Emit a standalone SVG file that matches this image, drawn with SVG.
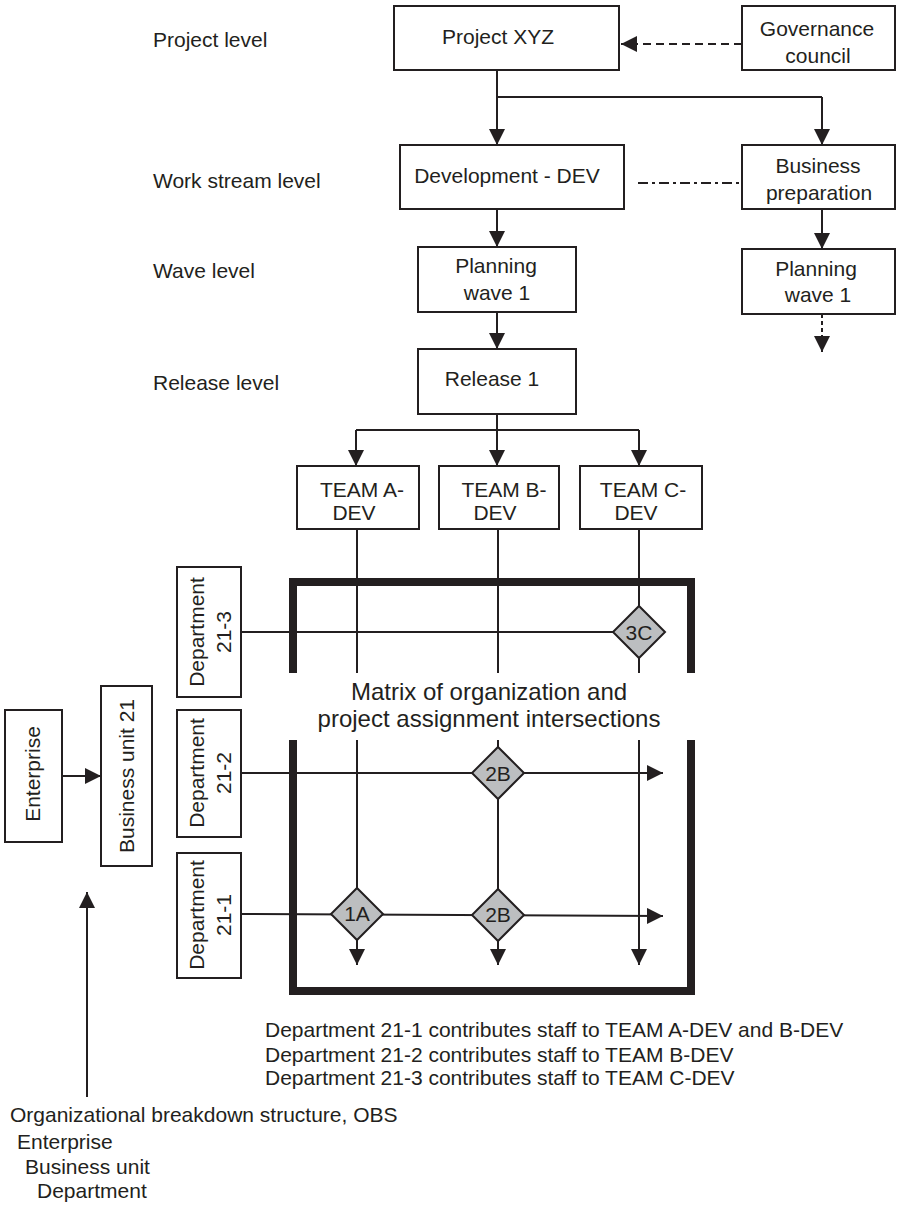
<svg xmlns="http://www.w3.org/2000/svg" width="897" height="1206" viewBox="0 0 897 1206">
  <style>
    text { font-family: "Liberation Sans", Arial, Helvetica, sans-serif; font-size: 21px; fill: #231f20; }
    .c { text-anchor: middle; }
    .box { fill: #ffffff; stroke: #231f20; stroke-width: 2; }
    .dia { fill: #bcbec0; stroke: #231f20; stroke-width: 2; stroke-linejoin: miter; }
    .ln { fill: none; stroke: #231f20; stroke-width: 2; }
    .arr { marker-end: url(#ah); }
    .frame { fill: none; stroke: #231f20; stroke-width: 8; stroke-linejoin: miter; }
    .big { font-size: 24px; }
  </style>
  <defs>
    <marker id="ah" viewBox="0 0 16 16" refX="16" refY="8" markerWidth="16" markerHeight="16" markerUnits="userSpaceOnUse" orient="auto">
      <path d="M0,0 L16,8 L0,16 Z" fill="#231f20"/>
    </marker>
  </defs>
  <rect width="897" height="1206" fill="#ffffff"/>

  <!-- level labels -->
  <g id="level-labels">
    <text x="153" y="47">Project level</text>
    <text x="153" y="188">Work stream level</text>
    <text x="153" y="278">Wave level</text>
    <text x="153" y="390">Release level</text>
  </g>

  <!-- connectors -->
  <g id="connectors">
    <line class="ln arr" x1="742" y1="44" x2="621" y2="44" stroke-dasharray="8,5"/>
    <path class="ln" d="M497,70 V97 H822"/>
    <line class="ln arr" x1="497" y1="97" x2="497" y2="145"/>
    <line class="ln arr" x1="822" y1="97" x2="822" y2="145"/>
    <line class="ln" x1="638" y1="183" x2="742" y2="183" stroke-dasharray="10,4,3,4"/>
    <line class="ln arr" x1="497" y1="209" x2="497" y2="247"/>
    <line class="ln arr" x1="822" y1="209" x2="822" y2="249"/>
    <line class="ln arr" x1="497" y1="312" x2="497" y2="349"/>
    <line class="ln arr" x1="822" y1="314" x2="822" y2="352" stroke-dasharray="4,3"/>
    <path class="ln" d="M497,414 V430 M356,430 H639"/>
    <line class="ln arr" x1="356" y1="430" x2="356" y2="466"/>
    <line class="ln arr" x1="497" y1="430" x2="497" y2="466"/>
    <line class="ln arr" x1="639" y1="430" x2="639" y2="466"/>
    <!-- team columns through the matrix -->
    <path class="ln" d="M357,529 V673 M498,529 V673 M639,529 V673"/>
    <line class="ln arr" x1="357" y1="740" x2="357" y2="965"/>
    <line class="ln arr" x1="498" y1="740" x2="498" y2="965"/>
    <line class="ln arr" x1="639" y1="740" x2="639" y2="965"/>
    <!-- department rows -->
    <line class="ln" x1="241" y1="632" x2="639" y2="632"/>
    <line class="ln arr" x1="241" y1="773" x2="663" y2="773"/>
    <line class="ln arr" x1="241" y1="914" x2="663" y2="916"/>
    <!-- OBS -->
    <line class="ln arr" x1="62" y1="776" x2="101" y2="776"/>
    <line class="ln arr" x1="87" y1="1097" x2="87" y2="892"/>
  </g>

  <!-- matrix frame -->
  <g id="matrix">
    <path class="frame" d="M293,673 V582 H691 V673"/>
    <path class="frame" d="M293,740 V991 H691 V740"/>
    <text class="c big" x="489" y="700">Matrix of organization and</text>
    <text class="c big" x="489" y="727">project assignment intersections</text>
  </g>

  <g id="project-xyz">
    <rect class="box" x="394" y="6" width="225" height="64"/>
    <text class="c" x="498" y="44">Project XYZ</text>
  </g>
  <g id="governance-council">
    <rect class="box" x="742" y="6" width="153" height="64"/>
    <text class="c" x="817" y="36">Governance</text>
    <text class="c" x="818" y="63">council</text>
  </g>
  <g id="development-dev">
    <rect class="box" x="400" y="145" width="224" height="64"/>
    <text class="c" x="507" y="183">Development - DEV</text>
  </g>
  <g id="business-preparation">
    <rect class="box" x="742" y="145" width="153" height="64"/>
    <text class="c" x="818" y="173">Business</text>
    <text class="c" x="819" y="200">preparation</text>
  </g>
  <g id="planning-wave-dev">
    <rect class="box" x="418" y="247" width="158" height="65"/>
    <text class="c" x="496" y="273">Planning</text>
    <text class="c" x="497" y="300">wave 1</text>
  </g>
  <g id="planning-wave-bp">
    <rect class="box" x="742" y="249" width="153" height="65"/>
    <text class="c" x="816" y="276">Planning</text>
    <text class="c" x="818" y="302">wave 1</text>
  </g>
  <g id="release-1">
    <rect class="box" x="418" y="349" width="158" height="65"/>
    <text class="c" x="492" y="386">Release 1</text>
  </g>
  <g id="team-a">
    <rect class="box" x="297" y="466" width="122" height="63"/>
    <text class="c" x="362" y="497">TEAM A-</text>
    <text class="c" x="354" y="520">DEV</text>
  </g>
  <g id="team-b">
    <rect class="box" x="439" y="466" width="120" height="63"/>
    <text class="c" x="504" y="497">TEAM B-</text>
    <text class="c" x="495" y="520">DEV</text>
  </g>
  <g id="team-c">
    <rect class="box" x="580" y="466" width="122" height="63"/>
    <text class="c" x="643" y="497">TEAM C-</text>
    <text class="c" x="636" y="520">DEV</text>
  </g>

  <g id="enterprise">
    <rect class="box" x="5" y="710" width="57" height="132"/>
    <text class="c" transform="translate(33.5,774) rotate(-90)" x="0" y="6">Enterprise</text>
  </g>
  <g id="business-unit-21">
    <rect class="box" x="101" y="686" width="51" height="180"/>
    <text class="c" transform="translate(126.5,776) rotate(-90)" x="0" y="7">Business unit 21</text>
  </g>
  <g id="department-21-3">
    <rect class="box" x="177" y="567" width="64" height="130"/>
    <text class="c" transform="translate(209,632) rotate(-90)" x="0" y="-5">Department</text>
    <text class="c" transform="translate(209,632) rotate(-90)" x="0" y="22">21-3</text>
  </g>
  <g id="department-21-2">
    <rect class="box" x="177" y="710" width="64" height="127"/>
    <text class="c" transform="translate(209,773) rotate(-90)" x="0" y="-5">Department</text>
    <text class="c" transform="translate(209,773) rotate(-90)" x="0" y="22">21-2</text>
  </g>
  <g id="department-21-1">
    <rect class="box" x="177" y="853" width="64" height="125"/>
    <text class="c" transform="translate(209,915) rotate(-90)" x="0" y="-5">Department</text>
    <text class="c" transform="translate(209,915) rotate(-90)" x="0" y="22">21-1</text>
  </g>

  <!-- intersections -->
  <g id="cell-3c">
    <path class="dia" d="M639,606 L665,632 L639,658 L613,632 Z"/>
    <text class="c" x="639" y="640">3C</text>
  </g>
  <g id="cell-2b-row2">
    <path class="dia" d="M498,747 L524,773 L498,799 L472,773 Z"/>
    <text class="c" x="498" y="781">2B</text>
  </g>
  <g id="cell-1a">
    <path class="dia" d="M357,888 L383,914 L357,940 L331,914 Z"/>
    <text class="c" x="357" y="921">1A</text>
  </g>
  <g id="cell-2b-row1">
    <path class="dia" d="M498,889 L524,915 L498,941 L472,915 Z"/>
    <text class="c" x="498" y="922">2B</text>
  </g>

  <g id="assignment-notes">
    <text x="265" y="1037">Department 21-1 contributes staff to TEAM A-DEV and B-DEV</text>
    <text x="265" y="1062">Department 21-2 contributes staff to TEAM B-DEV</text>
    <text x="265" y="1085">Department 21-3 contributes staff to TEAM C-DEV</text>
  </g>
  <g id="obs-legend">
    <text x="10" y="1122">Organizational breakdown structure, OBS</text>
    <text x="17" y="1149">Enterprise</text>
    <text x="25" y="1174">Business unit</text>
    <text x="37" y="1198">Department</text>
  </g>
</svg>
